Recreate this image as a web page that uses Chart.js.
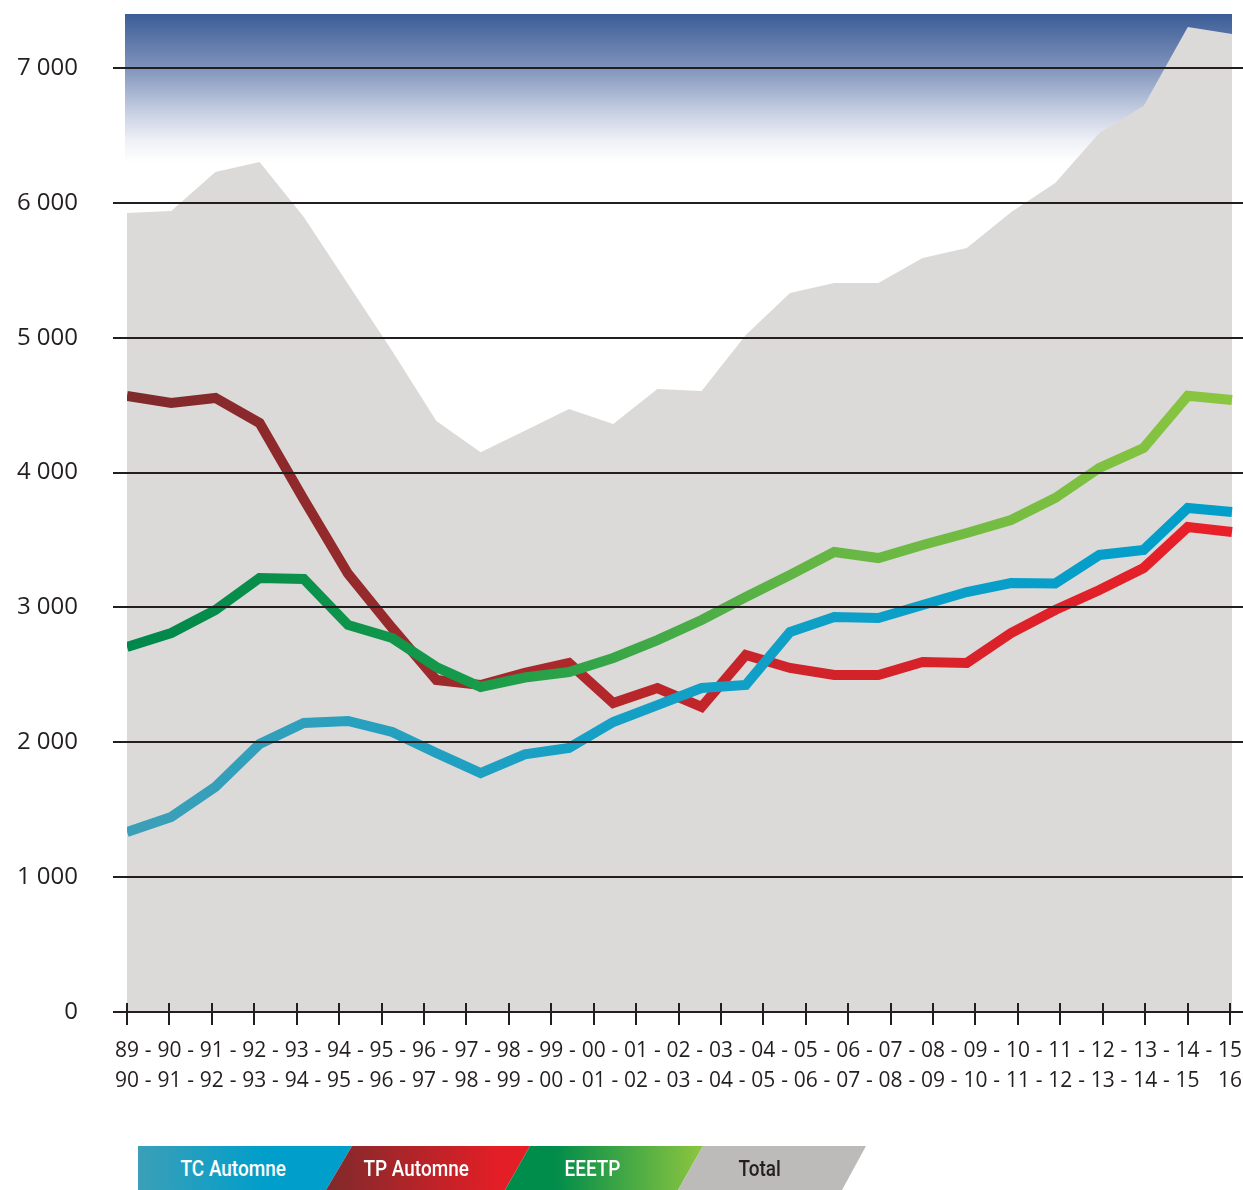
<!DOCTYPE html>
<html lang="fr">
<head>
<meta charset="utf-8">
<title>Effectifs 1989-2016</title>
<script src="https://cdn.jsdelivr.net/npm/chart.js@4.4.0/dist/chart.umd.min.js"></script>
<style>
  html, body { margin: 0; padding: 0; background: #fff; }
  #wrap { position: relative; width: 1243px; height: 1190px; }
  #chart { display: block; }
  .lg {
    position: absolute; top: 1146px; height: 44px;
    display: flex; align-items: center; justify-content: center;
    box-sizing: border-box; padding-right: 24px;
    color: #fff; font-family: 'Liberation Sans Narrow', Roboto, sans-serif; font-size: 22px; font-weight: 500;
  }
  .lg span { display: inline-block; transform: scaleX(0.86); }
</style>
</head>
<body>
<div id="wrap">
  <canvas id="chart" width="1243" height="1190"></canvas>
  <div id="legend"></div>
</div>
<script>
// Années scolaires (ligne du haut / ligne du bas)
const yearsFrom = ['89','90','91','92','93','94','95','96','97','98','99','00','01','02','03','04','05','06','07','08','09','10','11','12','13','14','15'];
const yearsTo   = ['90','91','92','93','94','95','96','97','98','99','00','01','02','03','04','05','06','07','08','09','10','11','12','13','14','15','16'];
const yTicks = [0, 1000, 2000, 3000, 4000, 5000, 6000, 7000];

// Séries
const tcAutomne = [1335, 1446, 1669, 1987, 2143, 2158, 2076, 1920, 1772, 1910, 1958, 2150, 2276, 2402, 2425, 2818, 2929, 2921, 3018, 3114, 3181, 3178, 3389, 3426, 3737, 3708];
const tpAutomne = [4568, 4516, 4553, 4367, 3800, 3250, 2847, 2462, 2425, 2515, 2588, 2291, 2402, 2262, 2647, 2551, 2499, 2499, 2595, 2588, 2810, 2981, 3129, 3292, 3596, 3559];
const eeetp     = [2707, 2810, 2981, 3218, 3211, 2870, 2773, 2558, 2410, 2480, 2521, 2625, 2758, 2907, 3077, 3240, 3411, 3366, 3463, 3552, 3648, 3811, 4034, 4182, 4570, 4538];
const total     = [5925, 5940, 6229, 6303, 5895, 5398, 4901, 4382, 4150, 4310, 4471, 4360, 4620, 4605, 5020, 5331, 5405, 5405, 5591, 5665, 5930, 6147, 6518, 6718, 7304, 7252];

const seriesLabels = ['TC Automne', 'TP Automne', 'EEETP', 'Total'];

const ink = '#231f20';
const tickFont = { family: "'Open Sans', sans-serif", size: 21, lineHeight: 1.43 };

// dégradé horizontal pour chaque courbe
function hGradient(stops, fallback) {
  return function(c) {
    const { ctx, chartArea } = c.chart;
    if (!chartArea) return fallback;
    const g = ctx.createLinearGradient(chartArea.left, 0, chartArea.right, 0);
    stops.forEach(s => g.addColorStop(s[0], s[1]));
    return g;
  };
}

const pts = arr => arr.map((v, i) => ({ x: i, y: v }));

// ciel bleu en haut de la zone de tracé
const skyPlugin = {
  id: 'sky',
  beforeDatasetsDraw(chart) {
    const { ctx, chartArea, scales } = chart;
    const x0 = scales.xd.getPixelForValue(0) - 2;
    const x1 = scales.xd.getPixelForValue(total.length - 1);
    const y0 = chartArea.top;
    const y1 = scales.y.getPixelForValue(6300);
    const g = ctx.createLinearGradient(0, y0, 0, y1);
    g.addColorStop(0, '#3b5d97');
    g.addColorStop(0.35, '#7d91ba');
    g.addColorStop(0.65, '#c4cde1');
    g.addColorStop(0.85, '#eef0f6');
    g.addColorStop(1, '#ffffff');
    ctx.save();
    ctx.fillStyle = g;
    ctx.fillRect(x0, y0, x1 - x0, y1 - y0);
    ctx.restore();
  }
};

// graduations qui traversent l'axe et tirets entre les années
const axisPlugin = {
  id: 'axisMarks',
  afterDraw(chart) {
    const { ctx, scales } = chart;
    const xs = scales.x;
    const y0 = scales.y.getPixelForValue(0);
    ctx.save();
    ctx.strokeStyle = ink;
    ctx.lineWidth = 2;
    xs.ticks.forEach(t => {
      const px = Math.round(xs.getPixelForValue(t.value));
      ctx.beginPath();
      ctx.moveTo(px, y0 - 9);
      ctx.lineTo(px, y0 + 13);
      ctx.stroke();
    });
    const items = xs.getLabelItems();
    if (items.length) {
      const it = items[0];
      const f = Chart.helpers.toFont(tickFont);
      ctx.font = f.string;
      ctx.fillStyle = ink;
      ctx.textAlign = 'center';
      ctx.textBaseline = it.options.textBaseline;
      const ly = it.options.translation[1] + (it.textOffset || 0);
      for (let i = 0; i < yearsFrom.length - 1; i++) {
        const mx = (xs.getPixelForValue(i) + xs.getPixelForValue(i + 1)) / 2;
        ctx.fillText('-', mx, ly);
        if (i < yearsTo.length - 2) ctx.fillText('-', mx, ly + f.lineHeight);
      }
    }
    ctx.restore();
  }
};

const chart = new Chart(document.getElementById('chart'), {
  type: 'line',
  data: {
    datasets: [
      {
        label: seriesLabels[2],
        data: pts(eeetp),
        borderColor: hGradient([[0, '#00874b'], [0.3, '#159a4a'], [0.6, '#62b545'], [1, '#8cc63f']], '#3fa846'),
        order: 1
      },
      {
        label: seriesLabels[0],
        data: pts(tcAutomne),
        borderColor: hGradient([[0, '#3d9fb8'], [0.4, '#16a0c5'], [1, '#009ecb']], '#0aa0c6'),
        order: 2
      },
      {
        label: seriesLabels[1],
        data: pts(tpAutomne),
        borderColor: hGradient([[0, '#7f2a2b'], [0.35, '#a5292b'], [0.6, '#d0232a'], [1, '#ea1f28']], '#c5252a'),
        order: 3
      },
      {
        label: seriesLabels[3],
        data: pts(total),
        borderWidth: 0,
        borderColor: 'rgba(0,0,0,0)',
        backgroundColor: '#dbdad8',
        fill: 'origin',
        order: 4
      }
    ]
  },
  options: {
    responsive: false,
    animation: false,
    layout: { padding: { top: 14, left: 0, right: 0, bottom: 0 } },
    elements: {
      line: { tension: 0, borderWidth: 10, borderJoinStyle: 'miter', borderCapStyle: 'butt', fill: false },
      point: { radius: 0, hoverRadius: 0 }
    },
    plugins: {
      legend: { display: false },
      tooltip: { enabled: false }
    },
    scales: {
      xd: {
        type: 'linear',
        display: false,
        min: 0,
        max: 25 * 1116 / 1105
      },
      x: {
        type: 'linear',
        position: 'bottom',
        min: 0,
        max: 26 * 1116 / 1103,
        afterBuildTicks: s => { s.ticks = yearsFrom.map((_, i) => ({ value: i })); },
        afterFit: s => { s.height = 178; s.paddingLeft = 0; s.paddingRight = 0; },
        grid: { display: false, drawTicks: false },
        border: { display: false },
        ticks: {
          autoSkip: false,
          maxRotation: 0,
          minRotation: 0,
          padding: 24,
          color: ink,
          font: tickFont,
          callback: (v, i) => [yearsFrom[i], yearsTo[i]]
        }
      },
      y: {
        min: 0,
        max: 7400,
        afterBuildTicks: s => { s.ticks = yTicks.map(v => ({ value: v })); },
        afterFit: s => { s.width = 127; s.paddingTop = 0; s.paddingBottom = 0; },
        grid: { z: 1, color: ink, lineWidth: 2, tickLength: 14, drawTicks: true, tickColor: ink },
        border: { display: false },
        ticks: {
          padding: 35,
          color: ink,
          font: { family: "'Open Sans', sans-serif", size: 24 },
          callback: v => String(v).replace(/\B(?=(\d{3})+(?!\d))/g, ' ')
        }
      }
    }
  },
  plugins: [skyPlugin, axisPlugin]
});

// légende en bandeaux obliques
const legendShapes = [
  { tl: 138, tr: 352, bl: 138, br: 326, bg: 'linear-gradient(to right, #3b9fb7, #009ecb 60%)', fg: '#fff' },
  { tl: 352, tr: 530, bl: 326, br: 505, bg: 'linear-gradient(to right, #7f2a2b, #e41e26 85%)', fg: '#fff' },
  { tl: 530, tr: 703, bl: 505, br: 678, bg: 'linear-gradient(to right, #008c4a 25%, #8dc63f)', fg: '#fff' },
  { tl: 703, tr: 866, bl: 678, br: 842, bg: '#bcbbb9', fg: ink }
];
const legendEl = document.getElementById('legend');
legendShapes.forEach((s, i) => {
  const left = Math.min(s.tl, s.bl);
  const w = Math.max(s.tr, s.br) - left;
  const d = document.createElement('div');
  d.className = 'lg';
  d.style.left = left + 'px';
  d.style.width = w + 'px';
  d.style.background = s.bg;
  d.style.color = s.fg;
  d.style.clipPath = `polygon(${s.tl - left}px 0, ${s.tr - left}px 0, ${s.br - left}px 100%, ${s.bl - left}px 100%)`;
  const sp = document.createElement('span');
  sp.textContent = seriesLabels[i];
  d.appendChild(sp);
  legendEl.appendChild(d);
});
</script>
</body>
</html>
